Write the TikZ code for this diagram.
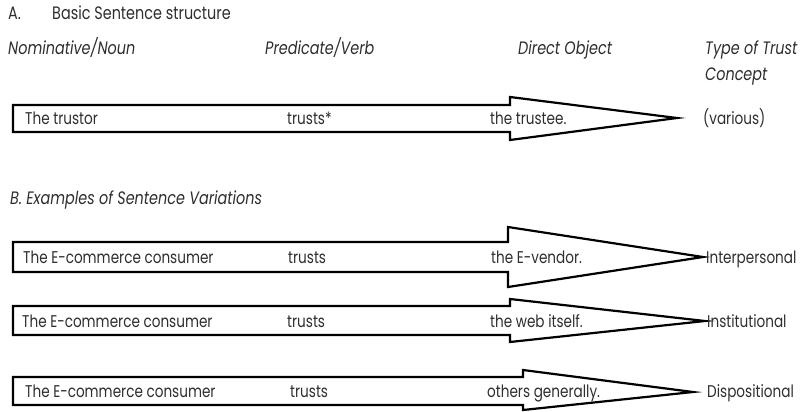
\documentclass[tikz,border=0pt]{standalone}
\usepackage{fontspec}
\setmainfont{Poppins}[FakeStretch=0.8]
\begin{document}
\begin{tikzpicture}[x=1pt,y=-1pt,
  txt/.style={anchor=base west,inner sep=0pt,font=\fontsize{17}{20}\selectfont,text=black!82},
  hdr/.style={txt,font=\fontsize{18}{21}\selectfont\itshape},
  ttl/.style={txt,font=\fontsize{18}{21}\selectfont},
  arrowshape/.style={draw=black,line width=2.2pt,line join=miter,miter limit=20,fill=white}]
\useasboundingbox (0,0) rectangle (808,412);
% Section A
\node[ttl] (ta) at (8,20) {A.};
\node[ttl] (tatitle) at (52,20) {Basic Sentence structure};
\node[hdr] (h1) at (8,55) {Nominative/Noun};
\node[hdr] (h2) at (265,55) {Predicate/Verb};
\node[hdr] (h3) at (518,55) {Direct Object};
\node[hdr] (h4) at (705,55) {Type of Trust};
\node[hdr] (h5) at (705,80) {Concept};
% arrow 1
\draw[arrowshape] (13,105) -- (510,105) -- (510,97) -- (677,118) -- (510,140) -- (510,132) -- (13,132) -- cycle;
\node[txt] (r1a) at (25,124) {The trustor};
\node[txt] (r1b) at (287,124) {trusts*};
\node[txt] (r1c) at (490,124) {the trustee.};
\node[txt] (r1d) at (703,124) {(various)};
% Section B
\node[hdr] (tb) at (10,204) {B. Examples of Sentence Variations};
% arrow 2
\draw[arrowshape] (13,242) -- (508,242) -- (508,227) -- (703,257) -- (508,287) -- (508,272) -- (13,272) -- cycle;
\node[txt] (r2a) at (23,263) {The E-commerce consumer};
\node[txt] (r2b) at (288,263) {trusts};
\node[txt] (r2c) at (491,263) {the E-vendor.};
\node[txt] (r2d) at (706,263) {Interpersonal};
% arrow 3
\draw[arrowshape] (13,306) -- (510,306) -- (510,299) -- (705,321) -- (510,342) -- (510,335) -- (13,335) -- cycle;
\node[txt] (r3a) at (22,327) {The E-commerce consumer};
\node[txt] (r3b) at (287,327) {trusts};
\node[txt] (r3c) at (490,327) {the web itself.};
\node[txt] (r3d) at (707,327) {Institutional};
% arrow 4
\draw[arrowshape] (13,377) -- (523,377) -- (523,370) -- (693,392) -- (523,410) -- (523,405) -- (13,405) -- cycle;
\node[txt] (r4a) at (25,397) {The E-commerce consumer};
\node[txt] (r4b) at (290,397) {trusts};
\node[txt] (r4c) at (487,397) {others generally.};
\node[txt] (r4d) at (707,397) {Dispositional};
\end{tikzpicture}
\end{document}
